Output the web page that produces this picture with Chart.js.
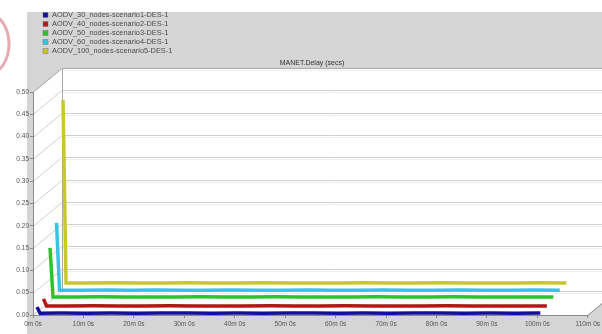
<!DOCTYPE html>
<html>
<head>
<meta charset="utf-8">
<script src="https://cdn.jsdelivr.net/npm/chart.js@4.4.0/dist/chart.umd.min.js"></script>
<style>
  html, body { margin: 0; padding: 0; background: #fff; }
  #wrap { width: 602px; height: 334px; }
</style>
</head>
<body>
<div id="wrap"><canvas id="delayChart" width="602" height="334"></canvas></div>
<script>
// simulation time in minutes, shared by every scenario
const minutes = [0.2, 0.8, 5, 10, 15, 20, 25, 30, 35, 40, 45, 50, 55, 60, 65, 70, 75, 80, 85, 90, 95, 100];

const seriesLabels = [
  "AODV_30_nodes-scenario1-DES-1",
  "AODV_40_nodes-scenario2-DES-1",
  "AODV_50_nodes-scenario3-DES-1",
  "AODV_60_nodes-scenario4-DES-1",
  "AODV_100_nodes-scenario5-DES-1",
];

// delay (secs)
const delay30 = [0.018, 0.004, 0.0045, 0.004, 0.0045, 0.004, 0.0045, 0.0045, 0.004, 0.0045, 0.004, 0.0045, 0.0045, 0.004, 0.0045, 0.004, 0.0045, 0.0045, 0.004, 0.0045, 0.004, 0.0045];
const delay40 = [0.025, 0.009, 0.009, 0.0095, 0.009, 0.009, 0.0095, 0.009, 0.009, 0.009, 0.0095, 0.009, 0.009, 0.0095, 0.009, 0.009, 0.009, 0.0095, 0.009, 0.009, 0.009, 0.009];
const delay50 = [0.128, 0.018, 0.018, 0.0185, 0.018, 0.018, 0.018, 0.0185, 0.018, 0.018, 0.0185, 0.018, 0.018, 0.018, 0.0185, 0.018, 0.018, 0.0185, 0.018, 0.018, 0.018, 0.018];
const delay60 = [0.173, 0.022, 0.022, 0.0225, 0.022, 0.0225, 0.022, 0.022, 0.0225, 0.022, 0.022, 0.0225, 0.022, 0.022, 0.0225, 0.022, 0.022, 0.0225, 0.022, 0.022, 0.0225, 0.022];
const delay100 = [0.437, 0.027, 0.027, 0.0275, 0.027, 0.027, 0.0275, 0.027, 0.027, 0.0275, 0.027, 0.027, 0.027, 0.0275, 0.027, 0.027, 0.0275, 0.027, 0.027, 0.027, 0.0275, 0.027];

const yTicks = [0, 0.05, 0.1, 0.15, 0.2, 0.25, 0.3, 0.35, 0.4, 0.45, 0.5];

const colors = ["#10109a", "#b01818", "#2cc42c", "#36c4e4", "#c8c82a"];
const allDelays = [delay30, delay40, delay50, delay60, delay100];

// 3D look: back wall offset and per series depth shift
const wallDepth = { x: 29, y: -24 };
const depthStep = { x: 6.5, y: -5 };
const depthStart = 3;

const datasets = seriesLabels.map((label, i) => ({
  label: label,
  data: minutes.map((m, j) => ({ x: m, y: allDelays[i][j] })),
  borderColor: colors[i],
  backgroundColor: colors[i],
  borderWidth: 3.5,
  pointRadius: 0,
  tension: 0,
  clip: false,
}));

const depthPlugin = {
  id: "depth",
  beforeDatasetDraw(chart, args) {
    const i = args.index;
    chart.ctx.save();
    chart.ctx.translate(depthStart + i * depthStep.x, i * depthStep.y);
  },
  afterDatasetDraw(chart) {
    chart.ctx.restore();
  },
};

const framePlugin = {
  id: "frame",
  beforeDraw(chart) {
    const ctx = chart.ctx;
    const a = chart.chartArea;
    const ys = chart.scales.y;
    const dx = wallDepth.x, dy = wallDepth.y;
    ctx.save();
    ctx.fillStyle = "#fff";
    ctx.fillRect(0, 0, chart.width, chart.height);
    ctx.fillStyle = "#d5d5d5";
    ctx.fillRect(27, 12, chart.width - 27, chart.height - 12);

    // pink edge on the far left
    ctx.strokeStyle = "rgba(225,150,160,0.8)";
    ctx.lineWidth = 3;
    ctx.beginPath();
    ctx.ellipse(-12, 44, 21, 30, 0, -Math.PI / 2.6, Math.PI / 2.6);
    ctx.stroke();

    // walls and floor
    ctx.fillStyle = "#fff";
    ctx.beginPath();
    ctx.moveTo(a.left, a.top);
    ctx.lineTo(a.left + dx, a.top + dy);
    ctx.lineTo(a.right + dx, a.top + dy);
    ctx.lineTo(a.right + dx, a.bottom + dy);
    ctx.lineTo(a.right, a.bottom);
    ctx.lineTo(a.left, a.bottom);
    ctx.closePath();
    ctx.fill();

    // grid lines on back wall and left wall
    yTicks.forEach((v) => {
      const y = Math.round(ys.getPixelForValue(v));
      ctx.lineWidth = 1;
      ctx.strokeStyle = "#efefef";
      ctx.beginPath();
      ctx.moveTo(a.left + dx, y + dy + 2.5);
      ctx.lineTo(a.right + dx, y + dy + 2.5);
      ctx.stroke();
      ctx.strokeStyle = "#cfcfcf";
      ctx.beginPath();
      ctx.moveTo(a.left, y + 0.5);
      ctx.lineTo(a.left + dx, y + dy + 0.5);
      ctx.lineTo(a.right + dx, y + dy + 0.5);
      ctx.stroke();
    });

    // edges
    ctx.strokeStyle = "#a8a8a8";
    ctx.lineWidth = 1;
    ctx.beginPath();
    ctx.moveTo(a.left + dx + 0.5, a.bottom + dy);
    ctx.lineTo(a.left + dx + 0.5, a.top + dy + 0.5);
    ctx.lineTo(a.right + dx, a.top + dy + 0.5);
    ctx.moveTo(a.left + 0.5, a.top);
    ctx.lineTo(a.left + dx + 0.5, a.top + dy);
    ctx.stroke();
    ctx.strokeStyle = "#8a8a8a";
    ctx.beginPath();
    ctx.moveTo(a.left + 0.5, a.top);
    ctx.lineTo(a.left + 0.5, a.bottom + 0.5);
    ctx.lineTo(a.right, a.bottom + 0.5);
    ctx.lineTo(a.right + dx, a.bottom + dy);
    ctx.stroke();

    // title
    ctx.fillStyle = "#333";
    ctx.font = "7px 'Liberation Sans', Arial, sans-serif";
    ctx.textAlign = "center";
    ctx.textBaseline = "middle";
    ctx.fillText("MANET.Delay (secs)", 312, 63);

    // legend
    ctx.textAlign = "left";
    ctx.font = "7.4px 'Liberation Sans', Arial, sans-serif";
    seriesLabels.forEach((label, i) => {
      const y = 15 + i * 9;
      ctx.fillStyle = colors[i];
      ctx.fillRect(43, y - 2.5, 5, 5);
      ctx.strokeStyle = "#777";
      ctx.lineWidth = 0.5;
      ctx.strokeRect(43, y - 2.5, 5, 5);
      ctx.fillStyle = "#4a4a4a";
      ctx.fillText(label, 52, y);
    });
    ctx.restore();
  },
};

new Chart(document.getElementById("delayChart").getContext("2d"), {
  type: "line",
  data: { datasets: datasets },
  options: {
    responsive: false,
    animation: false,
    events: [],
    layout: { padding: { top: 92, right: 14, left: 0, bottom: 0 } },
    plugins: {
      legend: { display: false },
      title: { display: false },
      tooltip: { enabled: false },
    },
    scales: {
      x: {
        type: "linear",
        min: 0,
        max: 110,
        afterFit: (s) => { s.height = 19; },
        border: { display: false },
        grid: { drawOnChartArea: false, color: "#888", tickLength: 3 },
        ticks: {
          stepSize: 10,
          autoSkip: false,
          maxRotation: 0,
          padding: 2,
          color: "#555",
          font: { size: 6.5, family: "'Liberation Sans', Arial, sans-serif" },
          callback: (v) => v + "m 0s",
        },
      },
      y: {
        min: 0,
        max: 0.5,
        afterFit: (s) => { s.width = 33; },
        border: { display: false },
        grid: { drawOnChartArea: false, color: "#888", tickLength: 3 },
        ticks: {
          stepSize: 0.05,
          padding: 1,
          color: "#555",
          font: { size: 6.5, family: "'Liberation Sans', Arial, sans-serif" },
          callback: (v) => Number(v).toFixed(2),
        },
      },
    },
  },
  plugins: [framePlugin, depthPlugin],
});
</script>
</body>
</html>
